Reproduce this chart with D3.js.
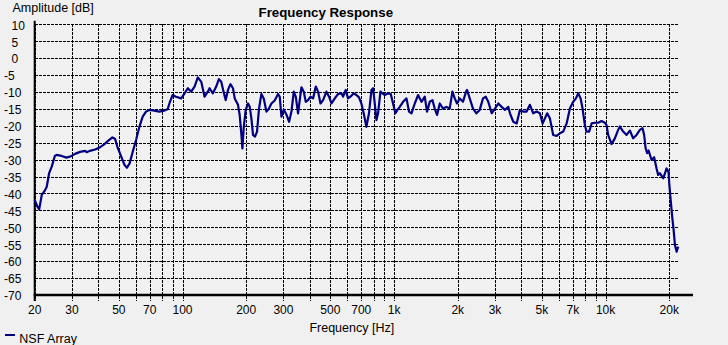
<!DOCTYPE html>
<html><head><meta charset="utf-8">
<script src="https://cdn.jsdelivr.net/npm/d3@7/dist/d3.min.js"></script>
<style>html,body{margin:0;padding:0;background:#f0f0f0;overflow:hidden}svg{display:block}</style>
</head><body><svg id="c" width="728" height="345"></svg>
<script>
const freqHz = [20,20.6,21.0,21.6,22.4,22.8,23.4,24.1,24.9,25.4,26.8,28.3,29.9,31.0,32.8,34.6,35.2,36.5,38.6,40.3,42.6,44.9,46.6,48.0,49.2,51.3,53.2,54.6,56.2,58.2,60.3,62.5,64.8,67.2,69.6,73.5,77.7,82.0,85.0,87.2,89.7,93.1,98.6,102.2,105.9,109.9,114.0,118.1,122.6,127.1,131.7,134.2,139.1,144.3,148.5,152.4,156.3,160.0,164.0,168.4,173.2,176.5,182.9,186.3,189.8,191.9,194.6,198.9,204.0,207.8,211.6,215.4,220.1,225.0,229.9,236.0,242.0,249.2,256.3,263.1,272.7,282.9,288.1,293.5,301.0,310.0,318.9,327.3,335.6,343.0,351.7,358.2,364.9,374.2,382.4,392.2,402.6,414.2,426.5,437.4,448.9,461.8,479.1,492.9,506.0,524.5,543.7,564.2,574.1,590.9,605.9,621.9,644.7,663.9,682.7,700.8,718.5,740.0,761.2,781.9,795.7,810.5,825.7,840.3,862.4,881.6,904.0,937.0,964.7,989.2,1015,1038,1064,1103,1145,1177,1209,1253,1299,1348,1397,1432,1475,1519,1557,1597,1645,1705,1769,1833,1888,1936,1985,2044,2119,2189,2213,2279,2362,2451,2541,2634,2713,2789,2894,3000,3110,3227,3345,3467,3532,3661,3799,3935,4079,4233,4388,4548,4720,4892,5038,5166,5297,5455,5654,5871,6086,6308,6546,6782,7031,7241,7424,7620,7785,7982,8131,8365,8589,8902,9228,9573,9924,10110,10287,10675,11065,11470,11684,12112,12568,13029,13505,14014,14526,14960,15222,15460,15730,15970,16500,16970,17420,17730,18060,18720,19070,19430,19860,20000,20310,20660,20980,21280,21680,22050];
const amplitudeDb = [-41.9,-43.9,-44.7,-40.4,-39.0,-38.0,-34.0,-32.0,-28.9,-28.6,-28.9,-29.4,-28.9,-28.3,-27.7,-27.4,-27.8,-27.4,-27.0,-26.5,-25.5,-24.2,-23.4,-23.9,-26.2,-29.1,-31.6,-32.4,-31.1,-27.6,-24.2,-20.3,-17.3,-15.8,-15.3,-15.5,-15.8,-15.5,-15.1,-12.9,-10.9,-11.4,-11.9,-10.4,-8.9,-9.9,-8.4,-5.7,-7.0,-11.4,-9.9,-8.9,-10.4,-8.4,-6.2,-7.0,-9.9,-12.4,-9.4,-7.7,-8.9,-11.9,-13.8,-16.8,-22.7,-26.7,-20.7,-15.3,-13.4,-14.4,-17.8,-22.7,-23.2,-21.7,-14.9,-10.6,-11.9,-15.8,-14.9,-13.4,-12.5,-10.6,-11.4,-17.3,-15.2,-16.7,-18.8,-15.8,-9.9,-11.4,-16.3,-12.4,-8.6,-9.9,-12.9,-12.4,-11.4,-11.9,-8.4,-9.9,-13.4,-12.4,-9.9,-11.4,-13.4,-11.9,-10.6,-10.4,-11.4,-9.4,-11.9,-11.4,-10.4,-10.9,-11.6,-13.4,-16.3,-20.3,-16.3,-9.4,-8.9,-13.4,-18.3,-16.3,-9.9,-10.4,-10.9,-10.4,-10.6,-13.4,-16.3,-15.3,-14.4,-12.9,-11.9,-15.8,-16.3,-13.4,-10.9,-12.9,-11.4,-15.8,-12.9,-12.4,-14.9,-16.8,-13.4,-14.9,-14.4,-14.9,-9.9,-11.9,-13.4,-11.9,-12.9,-9.9,-9.4,-11.9,-14.9,-16.3,-15.3,-11.9,-11.4,-12.9,-16.3,-14.9,-13.4,-14.4,-15.3,-14.4,-16.3,-18.8,-19.3,-15.3,-15.8,-15.8,-13.8,-16.3,-15.8,-16.3,-19.3,-17.8,-16.3,-17.8,-22.7,-23.0,-22.2,-21.7,-19.3,-14.9,-12.9,-11.9,-10.4,-11.9,-14.9,-19.8,-21.7,-21.7,-19.3,-19.1,-19.1,-18.6,-19.1,-19.8,-22.7,-25.4,-23.7,-21.2,-20.2,-21.7,-22.7,-21.4,-23.7,-22.7,-21.2,-20.7,-22.7,-26.6,-28.1,-27.3,-30.1,-29.3,-32.6,-34.5,-34.0,-35.5,-34.1,-32.6,-33.6,-37.0,-41.9,-46.9,-50.8,-55.2,-57.2,-55.7];
const yTickValues = [10,5,0,-5,-10,-15,-20,-25,-30,-35,-40,-45,-50,-55,-60,-65,-70];
const gridFreqs = [20,30,40,50,60,70,80,90,100,200,300,400,500,600,700,800,900,1000,2000,3000,4000,5000,6000,7000,8000,9000,10000,20000];
const xTickValues = [20,30,50,70,100,200,300,500,700,1000,2000,3000,5000,7000,10000,20000];
const xTickLabels = ["20","30","50","70","100","200","300","500","700","1k","2k","3k","5k","7k","10k","20k"];
const seriesName = "NSF Array";

const svg = d3.select("#c");
const x = d3.scaleLog().domain([20, 22050]).range([34.7, 678.2]);
const y = d3.scaleLinear().domain([-70, 10]).range([295, 24.3]);
const FONT = "'Liberation Sans', Arial, sans-serif";
const lineColor = "#000080";

svg.append("rect").attr("width",728).attr("height",345).attr("fill","#f0f0f0");

// horizontal grid
const g = svg.append("g").attr("stroke","#000").attr("stroke-width",1).attr("stroke-dasharray","3,1").attr("shape-rendering","crispEdges");
yTickValues.filter(v => v > -70).forEach(v => {
  g.append("line").attr("x1", x(20)).attr("x2", x(22050)).attr("y1", Math.round(y(v))+0.5).attr("y2", Math.round(y(v))+0.5);
});
// vertical grid (extending below the axis as ticks)
gridFreqs.forEach(f => {
  g.append("line").attr("x1", Math.round(x(f))+0.5).attr("x2", Math.round(x(f))+0.5).attr("y1", y(10)).attr("y2", y(-70)+6);
});

// axes lines
svg.append("line").attr("x1", x(20)).attr("x2", x(20)).attr("y1", y(10)-3.5).attr("y2", y(-70)+6).attr("stroke","#000").attr("stroke-width",2);
svg.append("line").attr("x1", x(20)-1).attr("x2", 693).attr("y1", y(-70)).attr("y2", y(-70)).attr("stroke","#000").attr("stroke-width",2.5);

// y labels
svg.append("g").selectAll("text").data(yTickValues).join("text")
  .attr("x", d => d < 0 ? 4 : 11.5)
  .attr("y", d => y(d) + 5.3)
  .attr("font-family", FONT).attr("font-size", 12).attr("fill","#000")
  .text(d => String(d));

// x labels
svg.append("g").selectAll("text").data(xTickValues).join("text")
  .attr("x", d => x(d)).attr("y", 313.5).attr("text-anchor","middle")
  .attr("font-family", FONT).attr("font-size", 12).attr("fill","#000")
  .text((d,i) => xTickLabels[i]);

// titles
svg.append("text").attr("x", 325.8).attr("y", 17.3).attr("text-anchor","middle")
  .attr("font-family", FONT).attr("font-size", 13.3).attr("font-weight","bold").text("Frequency Response");
svg.append("text").attr("x", 12.5).attr("y", 11.8)
  .attr("font-family", FONT).attr("font-size", 12.5).text("Amplitude [dB]");
svg.append("text").attr("x", 351.8).attr("y", 332).attr("text-anchor","middle")
  .attr("font-family", FONT).attr("font-size", 12.5).text("Frequency [Hz]");

// data line
const data = freqHz.map((f,i) => ({f, db: amplitudeDb[i]}));
svg.append("path").datum(data)
  .attr("fill","none").attr("stroke", lineColor).attr("stroke-width", 2.2).attr("stroke-linejoin","round")
  .attr("d", d3.line().x(d => x(d.f)).y(d => y(d.db)));

// legend
svg.append("line").attr("x1",5).attr("x2",15).attr("y1",335).attr("y2",335).attr("stroke",lineColor).attr("stroke-width",2);
svg.append("text").attr("x",19.3).attr("y",343).attr("font-family",FONT).attr("font-size",12.5).text(seriesName);
</script></body></html>
